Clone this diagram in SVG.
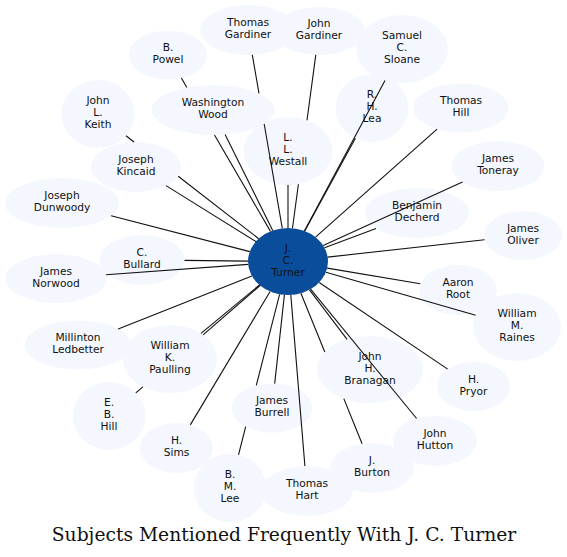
<svg xmlns="http://www.w3.org/2000/svg" width="567" height="557" viewBox="0 0 567 557">
<style>
.n ellipse{fill:#f4f8fe;stroke:none}
.n text,.c text{font-family:"DejaVu Sans","Noto Sans",sans-serif;font-size:10.67px;fill:#111;text-anchor:middle}
.c ellipse{fill:#0a4e9b;stroke:none}
#edges path{fill:none;stroke:#111;stroke-width:1.1}
.title{font-family:"DejaVu Serif","Liberation Serif",serif;font-size:18.7px;fill:#111;text-anchor:middle}
</style>
<rect width="567" height="557" fill="#fff"/>
<g id="nodes">
<g id="n_turner" class="c"><ellipse cx="288" cy="261.5" rx="40" ry="33.5"/><text x="288" y="251.5">J.</text><text x="288" y="263.5">C.</text><text x="288" y="275.5">Turner</text></g>
<g id="n_thomas_gardiner" class="n"><ellipse cx="248" cy="30" rx="48" ry="25"/><text x="248" y="26">Thomas</text><text x="248" y="38">Gardiner</text></g>
<g id="n_john_gardiner" class="n"><ellipse cx="319" cy="31" rx="46" ry="24"/><text x="319" y="27">John</text><text x="319" y="39">Gardiner</text></g>
<g id="n_samuel_sloane" class="n"><ellipse cx="402" cy="49" rx="46" ry="34"/><text x="402" y="39">Samuel</text><text x="402" y="51">C.</text><text x="402" y="63">Sloane</text></g>
<g id="n_b_powel" class="n"><ellipse cx="168" cy="55" rx="39" ry="24.5"/><text x="168" y="51">B.</text><text x="168" y="63">Powel</text></g>
<g id="n_washington_wood" class="n"><ellipse cx="213" cy="110" rx="61.5" ry="25"/><text x="213" y="106">Washington</text><text x="213" y="118">Wood</text></g>
<g id="n_john_keith" class="n"><ellipse cx="98" cy="114" rx="36.5" ry="34"/><text x="98" y="104">John</text><text x="98" y="116">L.</text><text x="98" y="128">Keith</text></g>
<g id="n_westall" class="n"><ellipse cx="288" cy="151" rx="44.5" ry="34"/><text x="288" y="141">L.</text><text x="288" y="153">L.</text><text x="288" y="165">Westall</text></g>
<g id="n_lea" class="n"><ellipse cx="372" cy="108" rx="36.5" ry="34"/><text x="372" y="98">R.</text><text x="372" y="110">H.</text><text x="372" y="122">Lea</text></g>
<g id="n_thomas_hill" class="n"><ellipse cx="461" cy="108" rx="47.5" ry="24.5"/><text x="461" y="104">Thomas</text><text x="461" y="116">Hill</text></g>
<g id="n_kincaid" class="n"><ellipse cx="136" cy="167" rx="45" ry="25"/><text x="136" y="163">Joseph</text><text x="136" y="175">Kincaid</text></g>
<g id="n_toneray" class="n"><ellipse cx="498" cy="166" rx="46.5" ry="25"/><text x="498" y="162">James</text><text x="498" y="174">Toneray</text></g>
<g id="n_dunwoody" class="n"><ellipse cx="62" cy="203" rx="57" ry="25"/><text x="62" y="199">Joseph</text><text x="62" y="211">Dunwoody</text></g>
<g id="n_decherd" class="n"><ellipse cx="417" cy="213" rx="52" ry="25"/><text x="417" y="209">Benjamin</text><text x="417" y="221">Decherd</text></g>
<g id="n_oliver" class="n"><ellipse cx="523" cy="235.5" rx="39" ry="24.5"/><text x="523" y="231.5">James</text><text x="523" y="243.5">Oliver</text></g>
<g id="n_bullard" class="n"><ellipse cx="142" cy="260" rx="42.5" ry="25"/><text x="142" y="256">C.</text><text x="142" y="268">Bullard</text></g>
<g id="n_norwood" class="n"><ellipse cx="56" cy="278.5" rx="50.5" ry="24.5"/><text x="56" y="274.5">James</text><text x="56" y="286.5">Norwood</text></g>
<g id="n_root" class="n"><ellipse cx="458" cy="290" rx="39" ry="25"/><text x="458" y="286">Aaron</text><text x="458" y="298">Root</text></g>
<g id="n_raines" class="n"><ellipse cx="517" cy="327" rx="44" ry="34"/><text x="517" y="317">William</text><text x="517" y="329">M.</text><text x="517" y="341">Raines</text></g>
<g id="n_ledbetter" class="n"><ellipse cx="78" cy="345" rx="53" ry="24.5"/><text x="78" y="341">Millinton</text><text x="78" y="353">Ledbetter</text></g>
<g id="n_paulling" class="n"><ellipse cx="170" cy="359" rx="47" ry="34"/><text x="170" y="349">William</text><text x="170" y="361">K.</text><text x="170" y="373">Paulling</text></g>
<g id="n_branagan" class="n"><ellipse cx="370" cy="369.5" rx="53" ry="33.5"/><text x="370" y="359.5">John</text><text x="370" y="371.5">H.</text><text x="370" y="383.5">Branagan</text></g>
<g id="n_pryor" class="n"><ellipse cx="473.5" cy="386.5" rx="36.5" ry="24.5"/><text x="473.5" y="382.5">H.</text><text x="473.5" y="394.5">Pryor</text></g>
<g id="n_eb_hill" class="n"><ellipse cx="109" cy="416" rx="36.5" ry="34"/><text x="109" y="406">E.</text><text x="109" y="418">B.</text><text x="109" y="430">Hill</text></g>
<g id="n_burrell" class="n"><ellipse cx="272" cy="408" rx="40.5" ry="24.5"/><text x="272" y="404">James</text><text x="272" y="416">Burrell</text></g>
<g id="n_sims" class="n"><ellipse cx="176.5" cy="448" rx="36.5" ry="25"/><text x="176.5" y="444">H.</text><text x="176.5" y="456">Sims</text></g>
<g id="n_hutton" class="n"><ellipse cx="435" cy="441" rx="42" ry="25"/><text x="435" y="437">John</text><text x="435" y="449">Hutton</text></g>
<g id="n_burton" class="n"><ellipse cx="372" cy="468" rx="42" ry="25"/><text x="372" y="464">J.</text><text x="372" y="476">Burton</text></g>
<g id="n_lee" class="n"><ellipse cx="230" cy="488" rx="36.5" ry="34"/><text x="230" y="478">B.</text><text x="230" y="490">M.</text><text x="230" y="502">Lee</text></g>
<g id="n_hart" class="n"><ellipse cx="307" cy="491" rx="46" ry="25"/><text x="307" y="487">Thomas</text><text x="307" y="499">Hart</text></g>
</g>
<g id="edges">
<path d="M252.3,54.9 L259,93.3 M264.2,124 L282.3,228.3"/>
<path d="M315.8,54.9 L307,120.3 M298.4,184.3 L292.5,228.2"/>
<path d="M304.4,230.9 L385,80.6"/>
<path d="M181.4,78 L186.8,87.4 M214.5,135 L270.5,231.4"/>
<path d="M272.7,230.5 L225.1,134.5"/>
<path d="M126,135.8 L134,142 M178.2,176.2 L258.7,238.7"/>
<path d="M288,228 L288,185"/>
<path d="M304.7,231 L355.4,138.3"/>
<path d="M315.5,237.1 L437.1,129.2"/>
<path d="M255.9,241.5 L166,185.6"/>
<path d="M323.2,245.5 L462.5,182.1"/>
<path d="M249.8,251.6 L111.1,215.7"/>
<path d="M324.5,247.8 L376,228.4"/>
<path d="M327.6,257.1 L484.6,239.7"/>
<path d="M248,261.1 L184.5,260.4"/>
<path d="M248.2,264.4 L105.9,274.8"/>
<path d="M327.2,268.1 L420.3,283.7"/>
<path d="M325.9,272.3 L475.7,315.2"/>
<path d="M251.9,275.9 L118.2,329"/>
<path d="M259.5,285 L201,333.4"/>
<path d="M260.1,285.5 L203.1,334.8 M142.8,386.8 L135.8,392.9"/>
<path d="M309.5,289.8 L347.1,339.3"/>
<path d="M319.2,282.5 L447.7,369.1"/>
<path d="M284.4,294.9 L274.7,383.6"/>
<path d="M279.6,294.3 L256.3,385.4 M245.7,426.7 L238.5,454.9"/>
<path d="M270.1,291.5 L190.3,424.9"/>
<path d="M310.6,289.1 L416.6,418.5"/>
<path d="M300.9,293.2 L324.8,352 M343.8,398.6 L362.1,443.7"/>
<path d="M290.8,294.9 L304.9,466"/>
</g>
<text class="title" x="284" y="540.5">Subjects Mentioned Frequently With J. C. Turner</text>
</svg>
